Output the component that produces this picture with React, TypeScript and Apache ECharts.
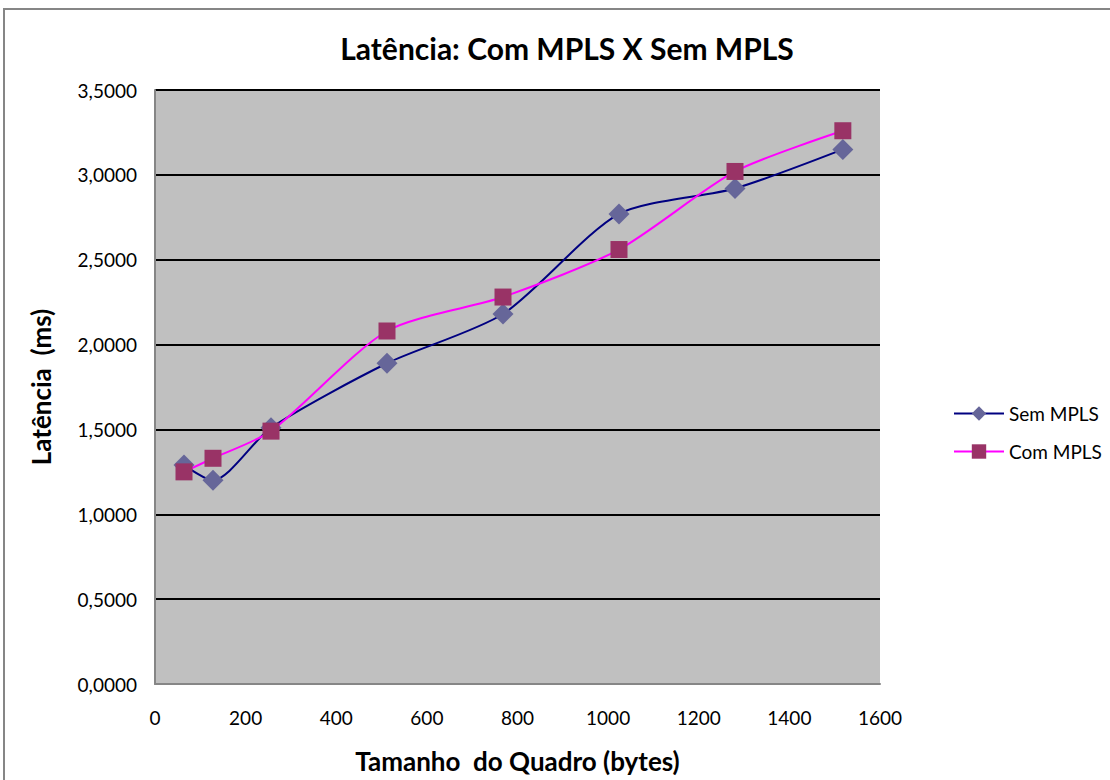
import React, { useEffect, useRef } from "react";
import * as echarts from "echarts";

const frameSizes = [64, 128, 256, 512, 768, 1024, 1280, 1518];
const semMpls = [1.29, 1.2, 1.51, 1.89, 2.18, 2.77, 2.92, 3.15];
const comMpls = [1.25, 1.33, 1.49, 2.08, 2.28, 2.56, 3.02, 3.26];
const seriesNames = ["Sem MPLS", "Com MPLS"];
const titleText = "Latência: Com MPLS X Sem MPLS";
const xName = "Tamanho  do Quadro (bytes)";
const yName = "Latência  (ms)";

const FONT = "Lato, 'Open Sans', sans-serif";

export default function App() {
  const ref = useRef<HTMLDivElement>(null);
  useEffect(() => {
    if (!ref.current) return;
    const chart = echarts.init(ref.current, undefined, { renderer: "svg" });
    const toPairs = (ys: number[]) => frameSizes.map((x, i) => [x, ys[i]]);
    chart.setOption({
      animation: false,
      backgroundColor: "#ffffff",
      textStyle: { fontFamily: FONT },
      title: {
        text: titleText,
        left: 562,
        top: 28,
        textAlign: "center",
        textStyle: { fontFamily: FONT, fontSize: 30, fontWeight: "bold", color: "#000" },
      },
      graphic: [
        {
          type: "rect",
          shape: { x: 4, y: 9, width: 1200, height: 900 },
          style: { fill: "none", stroke: "#868686", lineWidth: 2 },
          silent: true,
          z: 100,
        },
      ],
      legend: {
        orient: "vertical",
        left: 948,
        top: 399,
        itemGap: 19,
        itemWidth: 50,
        itemHeight: 18,
        textStyle: { fontFamily: FONT, fontSize: 19, color: "#000" },
        data: seriesNames,
      },
      grid: {
        left: 155,
        right: 230,
        top: 90,
        bottom: 96,
        show: true,
        backgroundColor: "#C0C0C0",
        borderWidth: 0,
        outerBoundsMode: "none",
        containLabel: false,
      },
      xAxis: {
        type: "value",
        min: 0,
        max: 1600,
        interval: 200,
        name: xName,
        nameLocation: "middle",
        nameGap: 64,
        nameTextStyle: { fontFamily: FONT, fontSize: 26, fontWeight: "bold", color: "#000" },
        axisLine: { show: true, lineStyle: { color: "#868686", width: 2 } },
        axisTick: { show: false },
        splitLine: { show: false },
        axisLabel: {
          fontFamily: FONT,
          fontSize: 19,
          color: "#000",
          margin: 24,
          formatter: (v: number) => String(v),
        },
      },
      yAxis: {
        type: "value",
        min: 0,
        max: 3.5,
        interval: 0.5,
        name: yName,
        nameLocation: "middle",
        nameGap: 101,
        nameTextStyle: { fontFamily: FONT, fontSize: 26, fontWeight: "bold", color: "#000" },
        axisLine: { show: true, lineStyle: { color: "#868686", width: 2 } },
        axisTick: { show: false },
        splitLine: { show: true, lineStyle: { color: "#000", width: 2 } },
        axisLabel: {
          fontFamily: FONT,
          fontSize: 19,
          color: "#000",
          margin: 18,
          formatter: (v: number) => v.toFixed(4).replace(".", ","),
        },
      },
      series: [
        {
          name: seriesNames[0],
          type: "line",
          smooth: 0.25,
          data: toPairs(semMpls),
          symbol: "diamond",
          symbolSize: 21,
          itemStyle: { color: "#666699" },
          lineStyle: { color: "#000080", width: 2 },
          z: 2,
        },
        {
          name: seriesNames[1],
          type: "line",
          smooth: 0.25,
          data: toPairs(comMpls),
          symbol: "rect",
          symbolSize: 17,
          itemStyle: { color: "#993366" },
          lineStyle: { color: "#FF00FF", width: 2 },
          z: 3,
        },
      ],
    });
    return () => chart.dispose();
  }, []);
  return (
    <div
      ref={ref}
      style={{ position: "fixed", left: 0, top: 0, width: 1110, height: 780 }}
    />
  );
}
